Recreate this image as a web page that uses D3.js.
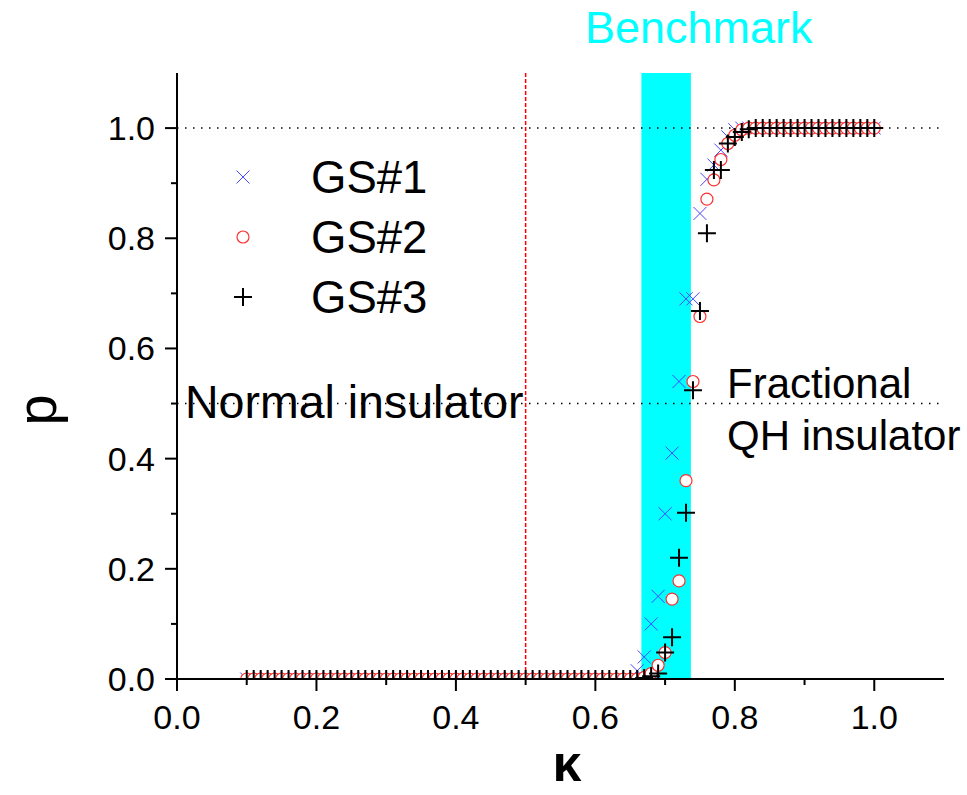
<!DOCTYPE html>
<html>
<head>
<meta charset="utf-8">
<script src="https://cdn.jsdelivr.net/npm/d3@7"></script>
<style>
  body { margin: 0; background: #fff; }
  svg { display: block; font-family: "Liberation Sans", Arial, sans-serif; }
</style>
</head>
<body>
<svg id="chart" width="967" height="795"></svg>
<script>
'use strict'

// kappa grid, 0.10 .. 1.00 in steps of 0.01
var kappa = [
  0.10,0.11,0.12,0.13,0.14,0.15,0.16,0.17,0.18,0.19,
  0.20,0.21,0.22,0.23,0.24,0.25,0.26,0.27,0.28,0.29,
  0.30,0.31,0.32,0.33,0.34,0.35,0.36,0.37,0.38,0.39,
  0.40,0.41,0.42,0.43,0.44,0.45,0.46,0.47,0.48,0.49,
  0.50,0.51,0.52,0.53,0.54,0.55,0.56,0.57,0.58,0.59,
  0.60,0.61,0.62,0.63,0.64,0.65,0.66,0.67,0.68,0.69,
  0.70,0.71,0.72,0.73,0.74,0.75,0.76,0.77,0.78,0.79,
  0.80,0.81,0.82,0.83,0.84,0.85,0.86,0.87,0.88,0.89,
  0.90,0.91,0.92,0.93,0.94,0.95,0.96,0.97,0.98,0.99,
  1.00
];

var gs1 = [
  0,0,0,0,0,0,0,0,0,0,
  0,0,0,0,0,0,0,0,0,0,
  0,0,0,0,0,0,0,0,0,0,
  0,0,0,0,0,0,0,0,0,0,
  0,0,0,0,0,0,0,0,0,0,
  0,0,0,0,0,0,0.015,0.04,0.10,0.15,
  0.30,0.41,0.54,0.69,0.69,0.845,0.907,0.933,0.96,0.984,
  0.997,1,1,1,1,1,1,1,1,1,
  1,1,1,1,1,1,1,1,1,1,
  1
];

var gs2 = [
  0,0,0,0,0,0,0,0,0,0,
  0,0,0,0,0,0,0,0,0,0,
  0,0,0,0,0,0,0,0,0,0,
  0,0,0,0,0,0,0,0,0,0,
  0,0,0,0,0,0,0,0,0,0,
  0,0,0,0,0,0,0,0.003,0.01,0.025,
  0.048,0.145,0.178,0.36,0.54,0.658,0.871,0.906,0.943,0.972,
  0.987,0.997,1,1,1,1,1,1,1,1,
  1,1,1,1,1,1,1,1,1,1,
  1
];

var gs3 = [
  0,0,0,0,0,0,0,0,0,0,
  0,0,0,0,0,0,0,0,0,0,
  0,0,0,0,0,0,0,0,0,0,
  0,0,0,0,0,0,0,0,0,0,
  0,0,0,0,0,0,0,0,0,0,
  0,0,0,0,0,0,0,0.002,0.005,0.01,
  0.048,0.076,0.22,0.302,0.524,0.668,0.809,0.924,0.924,0.972,
  0.984,0.993,0.998,1,1,1,1,1,1,1,
  1,1,1,1,1,1,1,1,1,1,
  1
];

var seriesNames = ["GS#1", "GS#2", "GS#3"];
var xTicks = [0.0, 0.2, 0.4, 0.6, 0.8, 1.0];
var yTicks = [0.0, 0.2, 0.4, 0.6, 0.8, 1.0];
var benchmark = [0.666, 0.737];   // shaded kappa range
var criticalK = 0.5;              // red dashed line
var guideP = [1.0, 0.5];          // dotted horizontal lines

var svg = d3.select('#chart');
var x = d3.scaleLinear().domain([0, 1.1]).range([177, 944]);
var y = d3.scaleLinear().domain([0, 1.1]).range([679, 73]);

svg.append('defs').append('clipPath').attr('id', 'plotclip')
  .append('rect')
  .attr('x', x(0)).attr('y', 0)
  .attr('width', x(1.1) - x(0) + 20).attr('height', y(0));

// benchmark band
svg.append('rect')
  .attr('x', x(benchmark[0]))
  .attr('y', y(1.1))
  .attr('width', x(benchmark[1]) - x(benchmark[0]))
  .attr('height', y(0) - y(1.1))
  .attr('fill', '#00ffff');

svg.append('text')
  .attr('x', 585)
  .attr('y', 43)
  .attr('font-size', 45)
  .attr('fill', '#00ffff')
  .text('Benchmark');

// dotted guides
svg.selectAll('.guide').data(guideP).enter().append('line')
  .attr('class', 'guide')
  .attr('x1', x(0)).attr('x2', x(1.1))
  .attr('y1', function(d){ return y(d); })
  .attr('y2', function(d){ return y(d); })
  .attr('stroke', '#000')
  .attr('stroke-width', 1.5)
  .attr('stroke-dasharray', '1.5,6.5');

// red dashed line at kappa = 0.5
svg.append('line')
  .attr('x1', x(criticalK)).attr('x2', x(criticalK))
  .attr('y1', y(1.1)).attr('y2', y(0))
  .attr('stroke', '#ff0000')
  .attr('stroke-width', 1.5)
  .attr('stroke-dasharray', '4,2');

// region labels
svg.append('text')
  .attr('x', 185).attr('y', 418)
  .attr('font-size', 46.5)
  .text('Normal insulator');

svg.append('text')
  .attr('x', 727).attr('y', 398)
  .attr('font-size', 42)
  .text('Fractional');
svg.append('text')
  .attr('x', 727).attr('y', 450)
  .attr('font-size', 42)
  .text('QH insulator');

// marker drawers
function drawCross(g, cx, cy, r){
  g.append('path')
    .attr('d', 'M' + (cx - r) + ',' + (cy - r) + 'L' + (cx + r) + ',' + (cy + r) +
               'M' + (cx - r) + ',' + (cy + r) + 'L' + (cx + r) + ',' + (cy - r))
    .attr('stroke', '#4646ff').attr('stroke-width', 1).attr('fill', 'none');
}
function drawCircle(g, cx, cy, r){
  g.append('circle')
    .attr('cx', cx).attr('cy', cy).attr('r', r)
    .attr('fill', '#fff').attr('stroke', '#ff3030').attr('stroke-width', 1.2);
}
function drawPlus(g, cx, cy, r){
  g.append('path')
    .attr('d', 'M' + (cx - r) + ',' + cy + 'L' + (cx + r) + ',' + cy +
               'M' + cx + ',' + (cy - r) + 'L' + cx + ',' + (cy + r))
    .attr('stroke', '#000').attr('stroke-width', 2).attr('fill', 'none');
}

var marks = svg.append('g').attr('clip-path', 'url(#plotclip)');
var g1 = marks.append('g'), g2 = marks.append('g'), g3 = marks.append('g');
kappa.forEach(function(k, i){ drawCross(g1, x(k), y(gs1[i]), 6.5); });
kappa.forEach(function(k, i){ drawCircle(g2, x(k), y(gs2[i]), 6); });
kappa.forEach(function(k, i){ drawPlus(g3, x(k), y(gs3[i]), 9); });

// axes
var xAxis = svg.append('g').attr('transform', 'translate(0,' + y(0) + ')');
xAxis.append('line').attr('x1', x(0)).attr('x2', x(1.1))
  .attr('stroke', '#000').attr('stroke-width', 2);
xAxis.selectAll('.minor').data(d3.range(1, 11, 2).map(function(d){ return d / 10; }))
  .enter().append('line')
  .attr('x1', function(d){ return x(d); }).attr('x2', function(d){ return x(d); })
  .attr('y1', 0).attr('y2', 6).attr('stroke', '#000').attr('stroke-width', 2);
xAxis.selectAll('.major').data(xTicks).enter().append('line')
  .attr('x1', function(d){ return x(d); }).attr('x2', function(d){ return x(d); })
  .attr('y1', 0).attr('y2', 12).attr('stroke', '#000').attr('stroke-width', 2);
xAxis.selectAll('.lbl').data(xTicks).enter().append('text')
  .attr('x', function(d){ return x(d); })
  .attr('y', 50)
  .attr('text-anchor', 'middle')
  .attr('font-size', 34)
  .text(function(d){ return d3.format('.1f')(d); });

var yAxis = svg.append('g').attr('transform', 'translate(' + x(0) + ',0)');
yAxis.append('line').attr('y1', y(0)).attr('y2', y(1.1))
  .attr('stroke', '#000').attr('stroke-width', 2);
yAxis.selectAll('.minor').data(d3.range(1, 11, 2).map(function(d){ return d / 10; }))
  .enter().append('line')
  .attr('y1', function(d){ return y(d); }).attr('y2', function(d){ return y(d); })
  .attr('x1', 0).attr('x2', -6).attr('stroke', '#000').attr('stroke-width', 2);
yAxis.selectAll('.major').data(yTicks).enter().append('line')
  .attr('y1', function(d){ return y(d); }).attr('y2', function(d){ return y(d); })
  .attr('x1', 0).attr('x2', -12).attr('stroke', '#000').attr('stroke-width', 2);
yAxis.selectAll('.lbl').data(yTicks).enter().append('text')
  .attr('x', -22)
  .attr('y', function(d){ return y(d) + 12; })
  .attr('text-anchor', 'end')
  .attr('font-size', 34)
  .text(function(d){ return d3.format('.1f')(d); });

// axis titles
svg.append('text')
  .attr('x', 567).attr('y', 781)
  .attr('text-anchor', 'middle')
  .attr('font-size', 52)
  .attr('font-weight', 'bold')
  .text('κ');
svg.append('text')
  .attr('transform', 'translate(56,410) rotate(-90)')
  .attr('text-anchor', 'middle')
  .attr('font-size', 56)
  .text('p');

// legend
var legendY = [177, 237, 297];
var lg = svg.append('g');
drawCross(lg, 243, legendY[0], 6.5);
drawCircle(lg, 243, legendY[1], 6);
drawPlus(lg, 243, legendY[2], 9);
lg.selectAll('text').data(seriesNames).enter().append('text')
  .attr('x', 311)
  .attr('y', function(d, i){ return legendY[i] + 16; })
  .attr('font-size', 45.5)
  .text(function(d){ return d; });
</script>
</body>
</html>
